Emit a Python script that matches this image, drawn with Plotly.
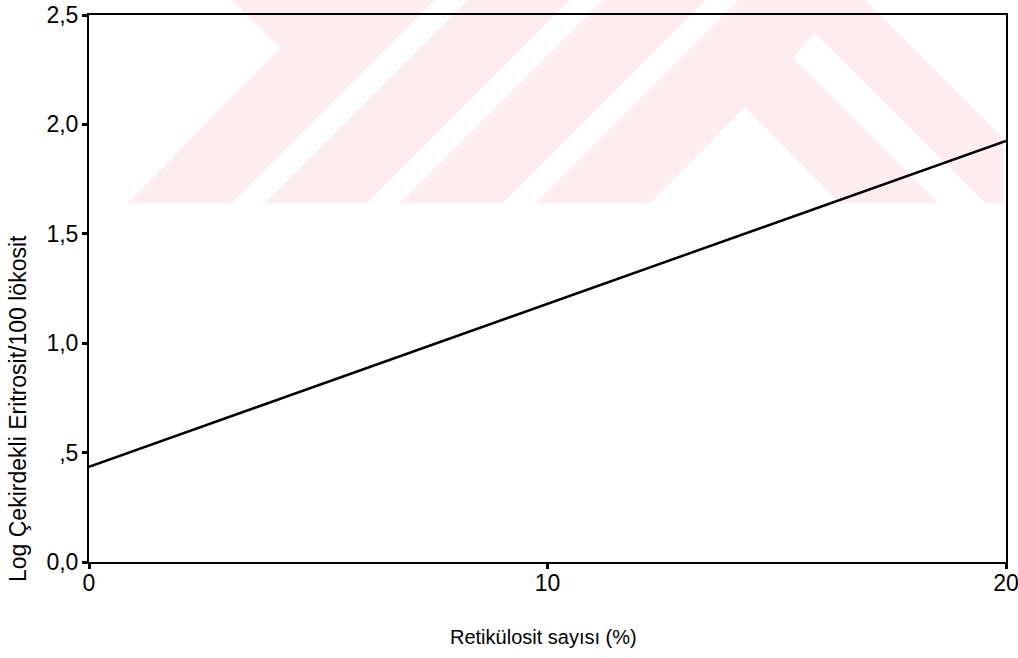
import plotly.graph_objects as go

# Regression line: log nucleated erythrocytes vs reticulocyte count
retic_pct = [0, 20]
log_nrbc = [0.435, 1.925]

x_tickvals = [0, 10, 20]
x_ticktext = ["0", "10", "20"]
y_tickvals = [0.0, 0.5, 1.0, 1.5, 2.0, 2.5]
y_ticktext = ["0,0", ",5", "1,0", "1,5", "2,0", "2,5"]

W, H = 1018, 658
L, R, T, B = 89, 1006, 15, 562  # plot frame in pixels

FONT = "Liberation Sans Narrow, Arial Narrow, Liberation Sans, Arial, sans-serif"
PINK = "#fdedf0"


def px(pt):
    x, y = pt
    return (x - L) / (R - L), (B - y) / (B - T)


def poly_path(pts):
    p = [px(q) for q in pts]
    return "M " + " L ".join(f"{a:.4f},{b:.4f}" for a, b in p) + " Z"


# faint background emblem: pink field with white diagonal cut-outs
emblem_fill = [(128, 203), (280, 48), (232, 0), (865, 0), (1003, 138),
               (1003, 203)]
emblem_cuts = [
    [(232, 203), (265, 203), (468, 0), (435, 0)],
    [(367, 203), (400, 203), (603, 0), (570, 0)],
    [(503, 203), (536, 203), (739, 0), (706, 0)],
    [(650, 203), (745, 107), (840, 203)],
    [(793, 58), (815, 33), (985, 203), (938, 203)],
]

shapes = [dict(type="path", xref="paper", yref="paper", layer="below",
               path=poly_path(emblem_fill), fillcolor=PINK, line_width=0)]
for cut in emblem_cuts:
    shapes.append(dict(type="path", xref="paper", yref="paper", layer="below",
                       path=poly_path(cut), fillcolor="white", line_width=0))

fig = go.Figure()
fig.add_trace(go.Scatter(x=retic_pct, y=log_nrbc, mode="lines",
                         line=dict(color="black", width=2.5),
                         hoverinfo="skip", showlegend=False))

axis_common = dict(showgrid=False, zeroline=False, showline=True,
                   linecolor="black", linewidth=2, mirror=True,
                   automargin=False, ticklabeloverflow="allow",
                   ticks="outside", ticklen=5, tickwidth=3, tickcolor="black",
                   tickfont=dict(family=FONT, size=23, color="black"))

fig.update_xaxes(range=[0, 20], tickvals=x_tickvals, ticktext=x_ticktext,
                 ticklabelstandoff=-6, **axis_common)
fig.update_yaxes(range=[0, 2.5], tickvals=y_tickvals, ticktext=y_ticktext,
                 ticklabelstandoff=-1, **axis_common)

annotations = [
    dict(text="Retikülosit sayısı (%)", xref="paper", yref="paper",
         x=px((543, 0))[0], y=px((0, 637))[1], showarrow=False,
         xanchor="center", yanchor="middle",
         font=dict(family=FONT, size=20, color="black")),
    dict(text="Log Çekirdekli Eritrosit/100 lökosit", xref="paper", yref="paper",
         x=px((18, 0))[0], y=px((0, 409))[1], showarrow=False, textangle=-90,
         xanchor="center", yanchor="middle",
         font=dict(family=FONT, size=23, color="black")),
]

fig.update_layout(width=W, height=H,
                  margin=dict(l=L, r=W - R, t=T, b=H - B),
                  paper_bgcolor="white", plot_bgcolor="rgba(0,0,0,0)",
                  shapes=shapes, annotations=annotations)

fig.write_html("out.html")
